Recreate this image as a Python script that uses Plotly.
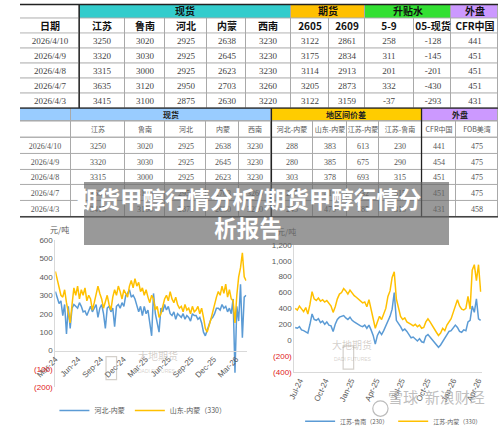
import plotly.graph_objects as go
import pandas as pd
from itertools import accumulate

W, H = 500, 436
def py(p):
    return 1 - p / H
def px(p):
    return p / W

FONT_CN = "Noto Sans CJK SC"
FONT_NUM = "Liberation Serif, Noto Sans CJK SC"
FONT_AX = "Liberation Sans, Noto Sans CJK SC"

# ---------------- Table 1 data ----------------
t1_dates = ["2026/4/10", "2026/4/9", "2026/4/8", "2026/4/7", "2026/4/3"]
t1_groups = ["", "现货", "期货", "升贴水", "外盘"]
t1_cols = ["日期", "江苏", "鲁南", "河北", "内蒙", "西南", "2605", "2609", "5-9", "05-现货", "CFR中国"]
spot_js = [3250, 3320, 3315, 3635, 3415]
spot_ln = [3020, 3030, 3000, 3120, 3100]
spot_hb = [2925, 2925, 2925, 2950, 2875]
spot_nm = [2638, 2645, 2623, 2703, 2630]
spot_xn = [3230, 3230, 3230, 3260, 3220]
fut_2605 = [3122, 3175, 3114, 3205, 3122]
fut_2609 = [2861, 2834, 2913, 2873, 3159]
basis_59 = [258, 311, 201, 332, -37]
basis_05 = [-128, -145, -201, -430, -293]
cfr_cn = [441, 451, 451, 451, 431]

# ---------------- Table 2 data ----------------
t2_groups = ["", "现货", "地区间价差", "外盘"]
t2_cols = ["", "江苏", "鲁南", "河北", "内蒙", "西南", "河北-内蒙", "山东-内蒙", "江苏-内蒙", "江苏-鲁南", "CFR中国", "FOB美湾"]
sp_hb_nm = [288, 280, 303, 247, 245]
sp_sd_nm = [383, 385, 378, 417, 470]
sp_js_nm = [613, 675, 693, 932, 785]
sp_js_ln = [230, 290, 315, 515, 315]
cfr_cn2 = [441, 454, 451, 451, 431]
fob_us = [475, 475, 475, 475, 458]

# ---------------- Left chart data (weekly, Mar-24 .. Apr-26) ----------------
hb_nm = [
    320, 280, 255, 270,  190, 250, 90, 240,  120, 230, 250, 240,  230, 260, 240, 210,
    215, 190, 220, 240,  210, 230, 250, 180,  230, 250, 200, 120,  230, 240, 210, 230,
    130, 240, 250, 230,  260, 240, 300, 310,  330, 290, 300, 280,  250, 210, 240, 190,
    240, 200, 220, 160,  80, 310, 200, 150,  100, 230, 210, 250,  220, 240, 200, 190,
    210, 170, 200, 190,  180, 200, 170, 190,  180, 160, 200, 190,  190, 170, 180, 150,
    100, 80, 110, 150,  170, 180, 200, 230,  230, 220, 250, 230,  240, 210, 230, 200,
    280, -120, 240, 160, 360,  70, 290, 300,
]
sd_nm = [
    430, 380, 330, 300,  290, 330, 260, 200,  150, 250, 340, 300,  350, 280, 330, 300,
    340, 270, 300, 280,  220, 260, 300, 350,  310, 280, 230, 270,  300, 250, 220, 290,
    330, 300, 350, 320,  280, 330, 310, 290,  350, 380, 340, 390,  350, 370, 320, 340,
    300, 330, 290, 260,  300, 280, 220, 240,  180, 200, 240, 280,  300, 270, 320, 280,
    260, 290, 250, 230,  240, 210, 250, 220,  230, 200, 240, 210,  220, 240, 200, 230,
    180, 120, 100, 130,  170, 210, 260, 290,  320, 300, 350, 310,  360, 290, 330, 280,
    270, 150, 300, 400, 450,  530, 400, 380,
]
left_dates = pd.date_range("2024-03-01", "2026-04-10", periods=len(hb_nm))

# ---------------- Right chart data (weekly, mid Jun-24 .. Apr-26) ----------------
js_ln = [
    160, 150,
    170, 130, 120, 110,  90, 200, 330, 260,  250, 270, 220, 240,  200, 230, 190, 180,
    110, 200, 260, 290,  300, 310, 280, 260,  290, 250, 230, 210,  200, 180, 170, 190,
    150, 190, 130, 60,  -50, 60, 110, 70,  120, 180, 250, 300,  390, 600, 250, 200,
    170, 120, 140, 110,  60, 30, 40, 10,  -10, 20, -20, -30,  50, 70, 40, 10,
    -20, -50, -90, -60,  -20, 30, 60, 110,  120, 150, 190, 160,  110, 100, 130, 120,
    230, 250, 430, 350,  520, 270, 250,
]
js_nm = [
    400, 380,
    430, 390, 360, 410,  330, 450, 610, 520,  500, 530, 490, 510,  480, 500, 460, 430,
    350, 420, 520, 580,  600, 650, 620, 580,  630, 590, 560, 540,  520, 500, 470, 480,
    420, 510, 390, 300,  150, 230, 300, 260,  320, 400, 550, 620,  790, 860, 520, 390,
    300, 260, 280, 230,  220, 200, 180, 200,  170, 190, 150, 160,  230, 270, 230, 180,
    140, 100, 60, 90,  150, 120, 190, 230,  270, 350, 420, 510,  430, 390, 380, 400,
    550, 390, 880, 950,  750, 950, 610,
]
right_dates = pd.date_range("2024-06-15", "2026-04-10", periods=len(js_ln))

BLUE = "#5B9BD5"
ORANGE = "#FFC000"
GRIDC = "#a9a9a9"

# ---------------- layout constants for the tables (pixel units) ----------------
T1_GROUP_W = [62, 221, 78, 90, 49]
T1_COL_W = [62, 48, 42, 44, 40, 47, 40, 38, 51, 39, 49]
T2_GROUP_W = [53, 210, 157, 80]
T2_COL_W = [53, 57, 42, 43, 34, 34, 44, 35, 34, 44, 36, 44]
T1_GROUP_COLORS = ["white", "#33CCCC", "#FFC000", "#33E033", "#CC99FF"]
T2_GROUP_COLORS = ["#99CCFF", "#99CCFF", "#FFCC00", "#CC99FF"]

def edges(widths):
    return [0] + list(accumulate(widths))

def row_edges(top, bottom, n):
    return [top + (bottom - top) * i / n for i in range(n + 1)]

def discrete_scale(colors):
    n = len(colors)
    return [[i / (n - 1), c] for i, c in enumerate(colors)]

WHITE_SCALE = [[0, "white"], [1, "white"]]

fig = go.Figure()

def table_band(xw, y_top, y_bot, text_rows, font, colors=None):
    ncol = len(xw)
    nrow = len(text_rows)
    if colors is None:
        z = [[0] * ncol for _ in range(nrow)]
        cs, zmax = WHITE_SCALE, 1
    else:
        z = [list(range(ncol)) for _ in range(nrow)]
        cs, zmax = discrete_scale(colors), ncol - 1
    fig.add_trace(go.Heatmap(
        x=edges(xw), y=row_edges(y_top, y_bot, nrow), z=z, text=text_rows,
        texttemplate="%{text}", textfont=font, colorscale=cs, zmin=0, zmax=zmax,
        showscale=False, xgap=1, ygap=1, hoverinfo="skip", xaxis="x3", yaxis="y3"))

hdr1 = dict(family=FONT_CN, size=10, color="#111", weight="bold")
num1 = dict(family=FONT_NUM, size=9, color="#444")
hdr2g = dict(family=FONT_CN, size=8, color="#222", weight="bold")
hdr2 = dict(family=FONT_CN, size=7, color="#555")
num2 = dict(family=FONT_NUM, size=8, color="#555")

t1_rows = [[str(v) for v in r] for r in zip(t1_dates, spot_js, spot_ln, spot_hb, spot_nm, spot_xn,
                                             fut_2605, fut_2609, basis_59, basis_05, cfr_cn)]
t2_rows = [[str(v) for v in r] for r in zip(t1_dates, spot_js, spot_ln, spot_hb, spot_nm, spot_xn,
                                             sp_hb_nm, sp_sd_nm, sp_js_nm, sp_js_ln, cfr_cn2, fob_us)]

table_band(T1_GROUP_W, 0.5, 15, [t1_groups], hdr1, T1_GROUP_COLORS)
table_band(T1_COL_W, 15, 30.5, [t1_cols], hdr1)
table_band(T1_COL_W, 30.5, 108, t1_rows, num1)
table_band(T2_GROUP_W, 108, 122, [t2_groups], hdr2g, T2_GROUP_COLORS)
table_band(T2_COL_W, 122, 139, [t2_cols], hdr2)
table_band(T2_COL_W, 139, 221, t2_rows, num2)

# ---------- Left chart ----------
fig.add_trace(go.Scatter(x=left_dates, y=hb_nm, mode="lines", name="河北-内蒙",
                         line=dict(color=BLUE, width=1.5), xaxis="x", yaxis="y",
                         legend="legend"))
fig.add_trace(go.Scatter(x=left_dates, y=sd_nm, mode="lines", name="山东-内蒙（330）",
                         line=dict(color=ORANGE, width=1.5), xaxis="x", yaxis="y",
                         legend="legend"))

# ---------- Right chart ----------
fig.add_trace(go.Scatter(x=right_dates, y=js_ln, mode="lines", name="江苏-鲁南（230）",
                         line=dict(color=BLUE, width=1.5), xaxis="x2", yaxis="y2",
                         legend="legend2"))
fig.add_trace(go.Scatter(x=right_dates, y=js_nm, mode="lines", name="江苏-内蒙（330）",
                         line=dict(color=ORANGE, width=1.5), xaxis="x2", yaxis="y2",
                         legend="legend2"))

def lab(v):
    if v < 0:
        return "<span style='color:#e02020'>(%s)</span>" % format(-v, ",")
    return format(v, ",")

ly0, ly1 = py(398), py(245)
left_y_range = [-200, 600]
zero_pos = ly0 + (ly1 - ly0) * (0 - left_y_range[0]) / (left_y_range[1] - left_y_range[0])
left_ticks = list(range(-200, 601, 100))
right_ticks = list(range(-400, 1201, 200))

axfont = dict(family=FONT_AX, size=8, color="#595959")

fig.update_layout(
    width=W, height=H, margin=dict(l=0, r=0, t=0, b=0),
    paper_bgcolor="white", plot_bgcolor="white",
    xaxis=dict(domain=[px(37), px(237)], type="date",
               range=["2024-03-01", "2026-04-12"], anchor="free", position=zero_pos,
               tick0="2024-03-01", dtick="M3", tickformat="%b-%y", tickangle=-45,
               showgrid=False, zeroline=False, showline=True, linecolor="#d9d9d9",
               ticks="", tickfont=axfont),
    yaxis=dict(domain=[ly0, ly1], range=left_y_range, anchor="x",
               tickvals=left_ticks, ticktext=[lab(v) for v in left_ticks],
               showgrid=False, zeroline=False, showline=True, linecolor="#d9d9d9",
               ticks="", tickfont=axfont),
    xaxis2=dict(domain=[px(287), px(483)], type="date",
                range=["2024-06-12", "2026-04-14"], anchor="y2",
                tick0="2024-07-01", dtick="M3", tickformat="%b-%y", tickangle=-65,
                showgrid=False, zeroline=False, showline=True, linecolor="#d9d9d9",
                ticks="", tickfont=axfont),
    yaxis2=dict(domain=[py(382), py(250)], range=[-400, 1200], anchor="x2",
                tickvals=right_ticks, ticktext=[lab(v) for v in right_ticks],
                showgrid=False, zeroline=False, showline=True, linecolor="#d9d9d9",
                ticks="", tickfont=axfont),
    xaxis3=dict(domain=[0, 1], range=[0, 500], visible=False, anchor="y3", fixedrange=True),
    yaxis3=dict(domain=[py(221), 1], range=[221, 0], visible=False, anchor="x3", fixedrange=True),
    legend=dict(orientation="h", x=px(36), y=py(407), xanchor="left", yanchor="top",
                font=dict(family=FONT_CN, size=7, color="#595959"),
                bgcolor="rgba(0,0,0,0)", itemwidth=30, tracegroupgap=0),
    legend2=dict(orientation="h", x=px(293), y=py(418), xanchor="left", yanchor="top",
                 font=dict(family=FONT_CN, size=6, color="#595959"),
                 bgcolor="rgba(0,0,0,0)", itemwidth=30, tracegroupgap=0),
    showlegend=True,
)

# grey grid background of the tables (shows through the 1px cell gaps)
fig.add_shape(type="rect", xref="paper", yref="paper", x0=0, x1=1, y0=py(221), y1=py(0),
              fillcolor=GRIDC, line=dict(width=0), layer="below")

# thick borders of the tables
for (x0, y0, x1, y1) in [(0, 0.5, 500, 0.5), (0, 108, 500, 108), (62, 0, 62, 108),
                         (263, 108, 263, 221), (420, 108, 420, 221), (0, 221, 500, 221)]:
    fig.add_shape(type="line", xref="paper", yref="paper",
                  x0=px(x0), x1=px(x1), y0=py(y0), y1=py(y1),
                  line=dict(color="#222", width=1.3), layer="above")

# watermark logos of the chart source
WM = "rgba(160,150,140,0.45)"
for (lx, ty) in [(90, 366), (338, 355)]:
    fig.add_shape(type="rect", xref="paper", yref="paper",
                  x0=px(lx), x1=px(lx + 11), y0=py(ty + 24), y1=py(ty),
                  line=dict(color=WM, width=1.2), fillcolor="rgba(0,0,0,0)", layer="above")
# circle logo of the page watermark
fig.add_shape(type="circle", xref="paper", yref="paper",
              x0=px(369), x1=px(385), y0=py(428), y1=py(412),
              line=dict(color="rgba(170,170,170,0.8)", width=1.2), layer="above")

ann = []
ann.append(dict(text="元/吨", x=px(29), y=py(234), xref="paper", yref="paper",
                showarrow=False, font=dict(family=FONT_CN, size=8, color="#595959")))
ann.append(dict(text="元/吨", x=px(279), y=py(236), xref="paper", yref="paper",
                showarrow=False, font=dict(family=FONT_CN, size=8, color="#595959")))
for (cx, cy) in [(121, 375), (370, 363)]:
    ann.append(dict(text="大地期货", x=px(cx), y=py(cy), xref="paper", yref="paper",
                    showarrow=False, font=dict(family=FONT_CN, size=10, color=WM)))
    ann.append(dict(text="DADI FUTURES", x=px(cx), y=py(cy + 11), xref="paper", yref="paper",
                    showarrow=False, font=dict(family=FONT_AX, size=5, color=WM)))
ann.append(dict(text="雪球  新浪财经", x=px(488), y=py(420), xref="paper", yref="paper",
                xanchor="right", showarrow=False,
                font=dict(family=FONT_CN, size=15, color="rgba(170,170,170,0.75)")))
# overlay title box
ann.append(dict(text=" ", x=px(67), y=py(185), xref="paper", yref="paper",
                xanchor="left", yanchor="top", showarrow=False, width=365, height=63,
                bgcolor="rgba(105,105,105,0.68)", borderpad=0, borderwidth=0))
ann.append(dict(text="<b>期货甲醇行情分析/期货甲醇行情分<br>析报告</b>",
                x=px(238), y=py(216), xref="paper", yref="paper", showarrow=False,
                align="center",
                font=dict(family=FONT_CN, size=22.5, color="white")))
fig.update_layout(annotations=ann)

# place the figure at the page origin (no default body margin), no mode bar
fig.write_html("out.html", config={"displayModeBar": False},
               post_script="document.body.style.margin='0';document.body.style.overflow='hidden';")
